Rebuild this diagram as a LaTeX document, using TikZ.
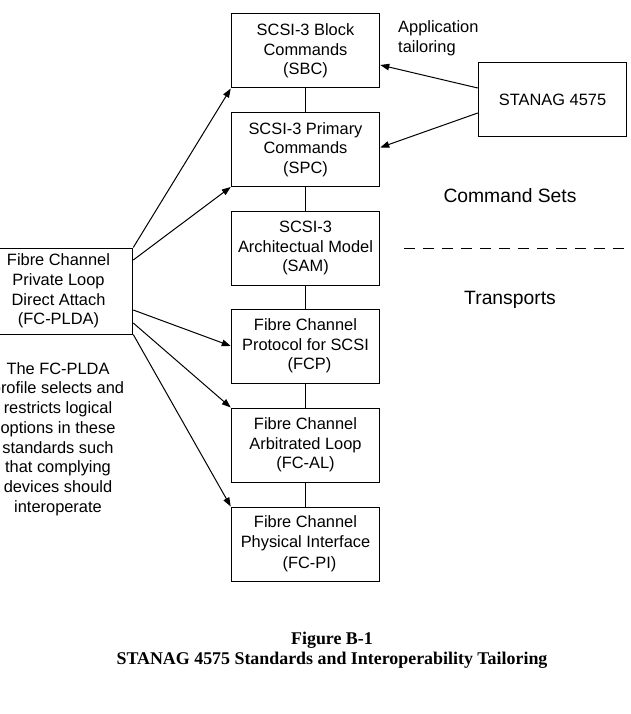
\documentclass[tikz,border=0pt]{standalone}
\usepackage{fontspec}
\setmainfont{Liberation Sans}
\newfontfamily\capfont{Liberation Serif}
\usetikzlibrary{arrows.meta, calc}

\newcommand{\boxfont}{\fontsize{16.4}{19.7}\selectfont}
\newcommand{\bigfont}{\fontsize{19.3}{22}\selectfont}
\tikzset{
  stdbox/.style={draw, line width=1pt, minimum width=148.5pt, minimum height=74pt, align=center, inner sep=0pt, font=\boxfont},
  feed/.style={-{Triangle[length=9pt,width=6.5pt]}, line width=1pt},
  link/.style={line width=1pt},
  txt/.style={inner sep=0pt, align=center, font=\boxfont}
}

\begin{document}
\begin{tikzpicture}[x=1pt, y=-1pt]
\useasboundingbox (0,0) rectangle (630,714);

% Standards stack
\node[stdbox] (sbc) at (305.5,51) {SCSI-3 Block\\Commands\\(SBC)};
\node[stdbox] (spc) at (305.5,149.5) {SCSI-3 Primary\\Commands\\(SPC)};
\node[stdbox] (sam) at (305.5,248) {SCSI-3\\Architectual Model\\(SAM)};
\node[stdbox] (fcp) at (305.5,346) {Fibre Channel\\Protocol for SCSI\\\hspace{8pt}(FCP)};
\node[stdbox] (fcal) at (305.5,445) {Fibre Channel\\Arbitrated Loop\\(FC-AL)};
\node[stdbox] (fcpi) at (305.5,544) {Fibre Channel\\Physical Interface\\[2pt]\hspace{8pt}(FC-PI)};

\draw[link] (sbc) -- (spc);
\draw[link] (spc) -- (sam);
\draw[link] (sam) -- (fcp);
\draw[link] (fcp) -- (fcal);
\draw[link] (fcal) -- (fcpi);

% Profiles
\node[stdbox, minimum height=86pt] (plda) at (58.5,291) {Fibre Channel\\Private Loop\\Direct Attach\\(FC-PLDA)};
\node[stdbox] (stanag) at (552.5,100) {STANAG 4575};

\draw[feed] (plda.north east) -- (sbc.south west);
\draw[feed] ([yshift=31pt]plda.east) -- (spc.south west);
\draw[feed] ([yshift=-19pt]plda.east) -- (fcp.west);
\draw[feed] ([yshift=-32pt]plda.east) -- (fcal.north west);
\draw[feed] (plda.south east) -- (fcpi.north west);

\draw[feed] ([yshift=12pt]stanag.west) -- ([yshift=-14pt]sbc.east);
\draw[feed] ([yshift=-13pt]stanag.west) -- ([yshift=2pt]spc.east);

% Labels
\node[txt, align=left, anchor=west] (tailor) at (398,38.5) {Application\\tailoring};
\node[txt] (note) at (58,439) {The FC-PLDA\\profile selects and\\restricts logical\\options in these\\standards such\\that complying\\devices should\\interoperate};

\node[txt, font=\bigfont] (cmdsets) at (510,196) {Command Sets};
\node[txt, font=\bigfont] (transp) at (510,300) {Transports};
\draw[line width=1pt, dash pattern=on 11pt off 8pt] (404,248) -- (632,248);

% Caption
\node[txt, font=\capfont\bfseries\fontsize{17.9}{20}\selectfont] (caption) at (332,650) {Figure B-1\\STANAG 4575 Standards and Interoperability Tailoring};
\end{tikzpicture}
\end{document}
